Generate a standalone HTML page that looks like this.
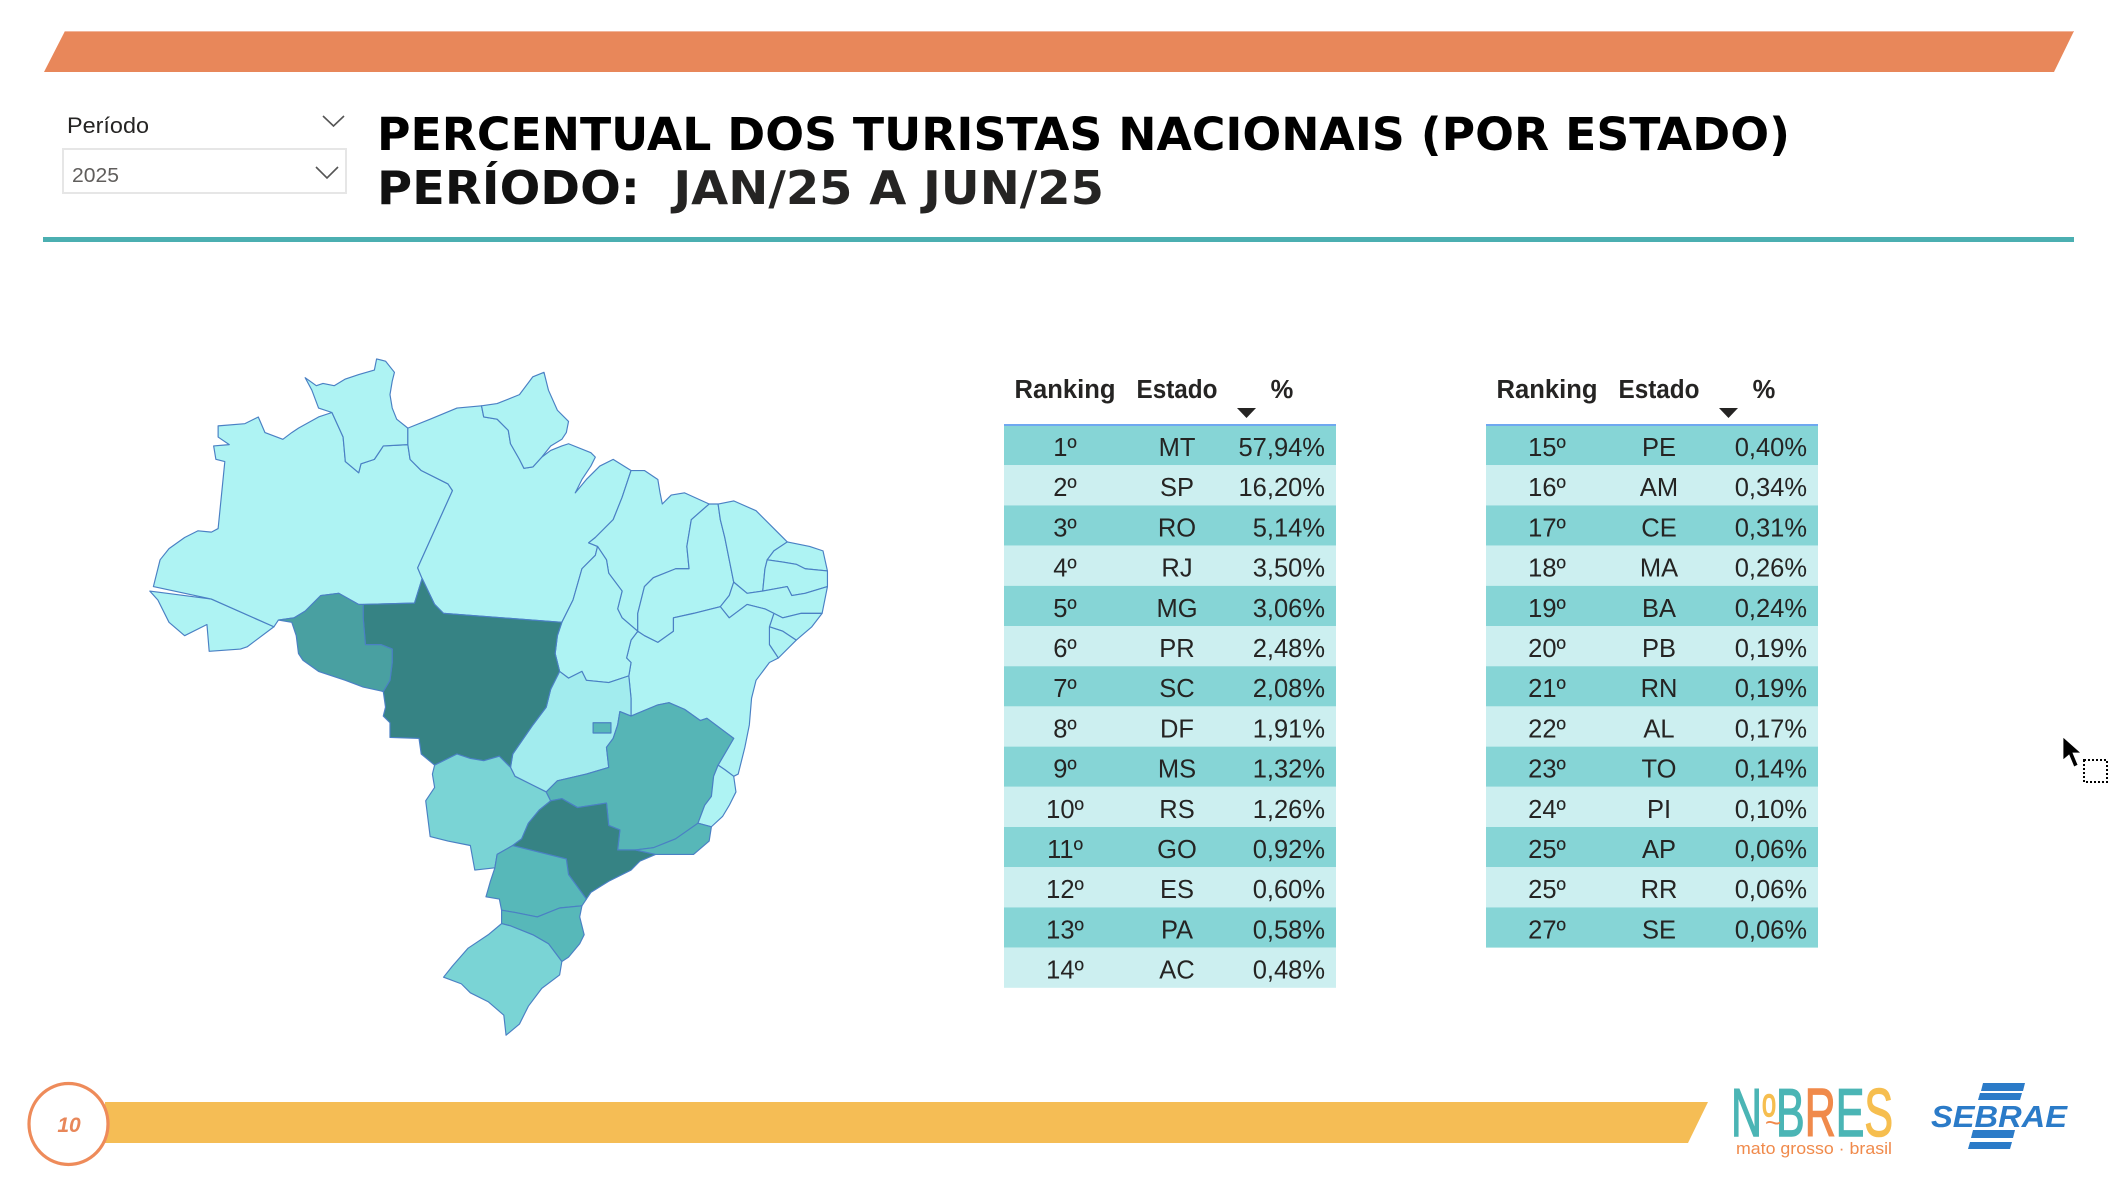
<!DOCTYPE html>
<html><head><meta charset="utf-8"><style>
html,body{margin:0;padding:0;background:#fff;width:2115px;height:1197px;overflow:hidden}
svg{display:block}
</style></head><body>
<svg width="2115" height="1197" viewBox="0 0 2115 1197" xmlns="http://www.w3.org/2000/svg">
<rect width="2115" height="1197" fill="#fff"/>
<!-- top orange bar -->
<polygon points="65,31 2074,31 2054,72 44,72" fill="#E8875A"/>
<line x1="65" y1="31.5" x2="2074" y2="31.5" stroke="#F1B49A" stroke-width="1"/>
<!-- teal line -->
<rect x="43" y="237" width="2031" height="5" fill="#4BAFB1"/>

<!-- slicer -->
<text x="67" y="133" font-family="Liberation Sans, sans-serif" font-size="22" fill="#252423" textLength="82" lengthAdjust="spacingAndGlyphs">Período</text>
<polyline points="323,116 333.5,126 344,116" fill="none" stroke="#555" stroke-width="1.6"/>
<rect x="63" y="149" width="283" height="44" fill="#fff" stroke="#E6E6E6" stroke-width="2"/>
<text x="72" y="182" font-family="Liberation Sans, sans-serif" font-size="20" fill="#605E5C" textLength="47" lengthAdjust="spacingAndGlyphs">2025</text>
<polyline points="316,167 327,178 338,167" fill="none" stroke="#555" stroke-width="1.6"/>

<!-- title -->
<text x="377" y="150" font-family="DejaVu Sans, Liberation Sans, sans-serif" font-weight="bold" font-size="45" fill="#000" textLength="1413" lengthAdjust="spacingAndGlyphs">PERCENTUAL DOS TURISTAS NACIONAIS (POR ESTADO)</text>
<text x="377" y="204" font-family="DejaVu Sans, Liberation Sans, sans-serif" font-weight="bold" font-size="46" fill="#111" textLength="727" lengthAdjust="spacingAndGlyphs">PERÍODO:&#160; <tspan fill="#252423">JAN/25 A JUN/25</tspan></text>

<!-- map -->
<g transform="translate(140,350) scale(0.4464)" stroke="#4A80C4" stroke-width="2.6" stroke-linejoin="round">
<polygon fill="#AEF3F3" points="22,540 160,558 300,620 240,665 225,670 155,675 150,615 100,640 65,610 40,560"/>
<polygon fill="#AEF3F3" points="30,530 45,470 65,445 100,420 130,405 160,408 175,400 185,300 190,250 170,245 165,215 200,212 175,195 175,170 235,165 265,150 280,185 320,200 340,185 355,175 400,150 430,140 455,195 460,250 490,275 495,255 525,245 545,215 600,212 605,245 630,270 690,300 700,315 622,488 632,512 615,567 500,570 490,570 445,545 405,550 370,585 345,600 310,605 300,620 160,558"/>
<polygon fill="#AEF3F3" points="370,62 395,80 410,75 435,80 460,65 490,55 525,45 530,20 550,25 570,50 565,70 560,100 565,130 575,155 600,175 600,212 545,215 525,245 495,255 490,275 460,250 455,195 430,140 400,130 385,90"/>
<polygon fill="#AEF3F3" points="600,175 650,155 710,130 765,125 770,150 800,155 825,180 830,210 850,245 860,265 880,262 900,240 920,225 945,215 960,210 1010,230 1020,240 1010,260 990,290 975,320 1000,290 1030,260 1060,245 1100,270 1080,330 1060,380 1020,420 1005,432 1025,440 1020,460 990,490 970,560 945,610 680,590 660,570 632,512 622,488 700,315 690,300 630,270 605,245 600,212"/>
<polygon fill="#AEF3F3" points="765,125 800,120 850,100 880,60 905,50 915,90 935,135 960,160 955,185 945,200 920,215 900,240 880,262 860,265 850,245 830,210 825,180 800,155 770,150"/>
<polygon fill="#AEF3F3" points="1100,270 1130,270 1160,290 1165,320 1170,345 1190,325 1220,320 1275,345 1235,380 1225,440 1230,490 1200,490 1150,510 1130,530 1115,590 1115,630 1080,600 1070,580 1080,540 1050,500 1045,470 1025,440 1005,432 1020,420 1060,380 1080,330"/>
<polygon fill="#AEF3F3" points="1275,345 1295,345 1300,380 1310,420 1320,470 1330,520 1320,550 1300,575 1240,590 1195,600 1195,630 1160,655 1130,640 1115,630 1115,590 1130,530 1150,510 1200,490 1230,490 1225,440 1235,380"/>
<polygon fill="#AEF3F3" points="1295,345 1330,338 1380,360 1420,400 1450,430 1420,450 1405,470 1400,490 1395,540 1360,545 1330,520 1320,470 1310,420 1300,380"/>
<polygon fill="#AEF3F3" points="1450,430 1500,440 1530,450 1540,495 1490,490 1470,480 1440,475 1405,470 1420,450"/>
<polygon fill="#AEF3F3" points="1405,470 1440,475 1470,480 1490,490 1540,495 1540,530 1490,545 1460,550 1450,530 1395,540 1400,490"/>
<polygon fill="#AEF3F3" points="1330,520 1360,545 1395,540 1450,530 1460,550 1490,545 1540,530 1528,590 1480,590 1440,600 1420,590 1400,580 1360,570 1320,600 1300,575 1320,550"/>
<polygon fill="#AEF3F3" points="1420,590 1440,600 1480,590 1528,590 1505,620 1470,650 1440,630 1410,620"/>
<polygon fill="#AEF3F3" points="1410,620 1440,630 1470,650 1430,690 1410,660"/>
<polygon fill="#AEF3F3" points="1300,575 1320,600 1360,570 1400,580 1420,590 1410,620 1410,660 1430,690 1410,700 1380,740 1370,780 1365,840 1355,890 1340,950 1330,955 1310,940 1295,930 1330,870 1310,855 1270,825 1255,830 1220,805 1185,790 1160,795 1100,820 1100,780 1095,730 1100,700 1090,690 1100,650 1115,630 1130,640 1160,655 1195,630 1195,600 1240,590"/>
<polygon fill="#AEF3F3" points="1025,440 1045,470 1050,500 1080,540 1070,580 1080,600 1115,630 1100,650 1090,690 1100,700 1095,730 1050,745 1000,740 990,720 960,735 940,720 930,680 935,640 945,610 970,560 990,490 1020,460"/>
<polygon fill="#A2ECEE" points="940,720 960,735 990,720 1000,740 1050,745 1095,730 1100,780 1100,820 1075,810 1070,840 1060,870 1045,890 1050,935 1000,950 935,965 910,990 880,975 840,955 830,935 835,905 880,840 910,800 920,760 935,730"/>
<rect x="1015" y="835" width="40" height="23" fill="#57B7B8"/>
<polygon fill="#368384" points="500,570 615,567 632,512 660,570 680,590 945,610 935,640 930,680 940,720 935,730 920,760 910,800 880,840 835,905 830,935 805,910 770,920 740,915 710,905 660,930 630,905 625,870 560,868 560,835 545,820 550,800 545,765 560,740 565,700 565,670 540,660 505,660 500,600"/>
<polygon fill="#49A0A1" points="345,600 370,585 405,550 445,545 490,570 500,570 500,600 505,660 540,660 565,670 565,700 560,740 545,765 500,755 460,740 400,720 365,695 355,680 350,640 340,610 310,605"/>
<polygon fill="#7AD4D5" points="660,930 710,905 740,915 770,920 805,910 830,935 840,955 880,975 910,990 920,1010 895,1030 870,1060 855,1095 835,1110 800,1130 795,1160 750,1165 740,1110 690,1100 650,1090 640,1010 660,980 655,950"/>
<polygon fill="#56B5B6" points="910,990 935,965 1000,950 1050,935 1045,890 1060,870 1070,840 1075,810 1100,820 1160,795 1185,790 1220,805 1255,830 1270,825 1310,855 1330,870 1295,930 1285,955 1280,1000 1265,1020 1250,1060 1200,1095 1150,1115 1110,1120 1070,1120 1075,1075 1050,1065 1045,1015 980,1025 945,1005 920,1010"/>
<polygon fill="#368384" points="920,1010 945,1005 980,1025 1045,1015 1050,1065 1075,1075 1070,1120 1110,1120 1155,1130 1120,1145 1100,1165 1050,1190 1010,1215 1000,1230 960,1175 955,1140 835,1110 855,1095 870,1060 895,1030"/>
<polygon fill="#AEF3F3" points="1295,930 1310,940 1330,955 1335,990 1320,1020 1305,1045 1280,1068 1250,1060 1265,1020 1280,1000 1285,955"/>
<polygon fill="#57B7B8" points="1150,1115 1200,1095 1250,1060 1280,1068 1275,1100 1240,1130 1200,1130 1155,1130 1110,1120"/>
<polygon fill="#57B8B9" points="795,1160 800,1130 835,1110 955,1140 960,1175 1000,1230 990,1245 940,1250 890,1270 840,1260 810,1255 805,1230 775,1225 785,1190"/>
<polygon fill="#57B8B9" points="810,1255 840,1260 890,1270 940,1250 990,1245 985,1270 995,1310 985,1330 960,1360 945,1370 915,1330 880,1310 830,1290 810,1285"/>
<polygon fill="#7AD4D5" points="810,1285 830,1290 880,1310 915,1330 945,1370 940,1400 900,1430 870,1470 850,1510 820,1535 815,1490 780,1460 740,1440 720,1420 680,1405 700,1380 735,1340 780,1310"/>
</g>

<!-- tables -->
<g font-family="Liberation Sans, sans-serif">
<text x="1065" y="398" font-size="25.5" font-weight="bold" fill="#252423" text-anchor="middle" textLength="101" lengthAdjust="spacingAndGlyphs">Ranking</text>
<text x="1177" y="398" font-size="25.5" font-weight="bold" fill="#252423" text-anchor="middle" textLength="81" lengthAdjust="spacingAndGlyphs">Estado</text>
<text x="1282" y="398" font-size="25.5" font-weight="bold" fill="#252423" text-anchor="middle">%</text>
<polygon points="1237,408 1256,408 1246.5,418" fill="#252423"/>
<text x="1547" y="398" font-size="25.5" font-weight="bold" fill="#252423" text-anchor="middle" textLength="101" lengthAdjust="spacingAndGlyphs">Ranking</text>
<text x="1659" y="398" font-size="25.5" font-weight="bold" fill="#252423" text-anchor="middle" textLength="81" lengthAdjust="spacingAndGlyphs">Estado</text>
<text x="1764" y="398" font-size="25.5" font-weight="bold" fill="#252423" text-anchor="middle">%</text>
<polygon points="1719,408 1738,408 1728.5,418" fill="#252423"/>

<g>
<rect x="1004" y="425" width="332" height="40.2" fill="#86D5D6"/>
<rect x="1004" y="465.2" width="332" height="40.2" fill="#CCEFF0"/>
<rect x="1004" y="505.4" width="332" height="40.2" fill="#86D5D6"/>
<rect x="1004" y="545.6" width="332" height="40.2" fill="#CCEFF0"/>
<rect x="1004" y="585.8" width="332" height="40.2" fill="#86D5D6"/>
<rect x="1004" y="626" width="332" height="40.2" fill="#CCEFF0"/>
<rect x="1004" y="666.2" width="332" height="40.2" fill="#86D5D6"/>
<rect x="1004" y="706.4" width="332" height="40.2" fill="#CCEFF0"/>
<rect x="1004" y="746.6" width="332" height="40.2" fill="#86D5D6"/>
<rect x="1004" y="786.8" width="332" height="40.2" fill="#CCEFF0"/>
<rect x="1004" y="827" width="332" height="40.2" fill="#86D5D6"/>
<rect x="1004" y="867.2" width="332" height="40.2" fill="#CCEFF0"/>
<rect x="1004" y="907.4" width="332" height="40.2" fill="#86D5D6"/>
<rect x="1004" y="947.6" width="332" height="40.2" fill="#CCEFF0"/>
</g>
<g>
<rect x="1486" y="425" width="332" height="40.2" fill="#86D5D6"/>
<rect x="1486" y="465.2" width="332" height="40.2" fill="#CCEFF0"/>
<rect x="1486" y="505.4" width="332" height="40.2" fill="#86D5D6"/>
<rect x="1486" y="545.6" width="332" height="40.2" fill="#CCEFF0"/>
<rect x="1486" y="585.8" width="332" height="40.2" fill="#86D5D6"/>
<rect x="1486" y="626" width="332" height="40.2" fill="#CCEFF0"/>
<rect x="1486" y="666.2" width="332" height="40.2" fill="#86D5D6"/>
<rect x="1486" y="706.4" width="332" height="40.2" fill="#CCEFF0"/>
<rect x="1486" y="746.6" width="332" height="40.2" fill="#86D5D6"/>
<rect x="1486" y="786.8" width="332" height="40.2" fill="#CCEFF0"/>
<rect x="1486" y="827" width="332" height="40.2" fill="#86D5D6"/>
<rect x="1486" y="867.2" width="332" height="40.2" fill="#CCEFF0"/>
<rect x="1486" y="907.4" width="332" height="40.2" fill="#86D5D6"/>
</g>
<line x1="1004" y1="425" x2="1336" y2="425" stroke="#6FA8F0" stroke-width="2"/>
<line x1="1486" y1="425" x2="1818" y2="425" stroke="#6FA8F0" stroke-width="2"/>

<g font-size="25.5" fill="#252423">
<g text-anchor="middle">
<text x="1065" y="456">1º</text><text x="1177" y="456">MT</text>
<text x="1065" y="496.2">2º</text><text x="1177" y="496.2">SP</text>
<text x="1065" y="536.4">3º</text><text x="1177" y="536.4">RO</text>
<text x="1065" y="576.6">4º</text><text x="1177" y="576.6">RJ</text>
<text x="1065" y="616.8">5º</text><text x="1177" y="616.8">MG</text>
<text x="1065" y="657">6º</text><text x="1177" y="657">PR</text>
<text x="1065" y="697.2">7º</text><text x="1177" y="697.2">SC</text>
<text x="1065" y="737.4">8º</text><text x="1177" y="737.4">DF</text>
<text x="1065" y="777.6">9º</text><text x="1177" y="777.6">MS</text>
<text x="1065" y="817.8">10º</text><text x="1177" y="817.8">RS</text>
<text x="1065" y="858">11º</text><text x="1177" y="858">GO</text>
<text x="1065" y="898.2">12º</text><text x="1177" y="898.2">ES</text>
<text x="1065" y="938.4">13º</text><text x="1177" y="938.4">PA</text>
<text x="1065" y="978.6">14º</text><text x="1177" y="978.6">AC</text>

<text x="1547" y="456">15º</text><text x="1659" y="456">PE</text>
<text x="1547" y="496.2">16º</text><text x="1659" y="496.2">AM</text>
<text x="1547" y="536.4">17º</text><text x="1659" y="536.4">CE</text>
<text x="1547" y="576.6">18º</text><text x="1659" y="576.6">MA</text>
<text x="1547" y="616.8">19º</text><text x="1659" y="616.8">BA</text>
<text x="1547" y="657">20º</text><text x="1659" y="657">PB</text>
<text x="1547" y="697.2">21º</text><text x="1659" y="697.2">RN</text>
<text x="1547" y="737.4">22º</text><text x="1659" y="737.4">AL</text>
<text x="1547" y="777.6">23º</text><text x="1659" y="777.6">TO</text>
<text x="1547" y="817.8">24º</text><text x="1659" y="817.8">PI</text>
<text x="1547" y="858">25º</text><text x="1659" y="858">AP</text>
<text x="1547" y="898.2">25º</text><text x="1659" y="898.2">RR</text>
<text x="1547" y="938.4">27º</text><text x="1659" y="938.4">SE</text>
</g>
<g text-anchor="end">
<text x="1325" y="456">57,94%</text>
<text x="1325" y="496.2">16,20%</text>
<text x="1325" y="536.4">5,14%</text>
<text x="1325" y="576.6">3,50%</text>
<text x="1325" y="616.8">3,06%</text>
<text x="1325" y="657">2,48%</text>
<text x="1325" y="697.2">2,08%</text>
<text x="1325" y="737.4">1,91%</text>
<text x="1325" y="777.6">1,32%</text>
<text x="1325" y="817.8">1,26%</text>
<text x="1325" y="858">0,92%</text>
<text x="1325" y="898.2">0,60%</text>
<text x="1325" y="938.4">0,58%</text>
<text x="1325" y="978.6">0,48%</text>

<text x="1807" y="456">0,40%</text>
<text x="1807" y="496.2">0,34%</text>
<text x="1807" y="536.4">0,31%</text>
<text x="1807" y="576.6">0,26%</text>
<text x="1807" y="616.8">0,24%</text>
<text x="1807" y="657">0,19%</text>
<text x="1807" y="697.2">0,19%</text>
<text x="1807" y="737.4">0,17%</text>
<text x="1807" y="777.6">0,14%</text>
<text x="1807" y="817.8">0,10%</text>
<text x="1807" y="858">0,06%</text>
<text x="1807" y="898.2">0,06%</text>
<text x="1807" y="938.4">0,06%</text>
</g>
</g>
</g>

<!-- cursor -->
<polygon points="2063,737 2063,760 2069,755 2074,767 2078,765 2073,753 2081,753" fill="#000" stroke="#fff" stroke-width="0.8"/>
<rect x="2084" y="760" width="23" height="22" fill="none" stroke="#000" stroke-width="2" stroke-dasharray="2,2"/>

<!-- footer -->
<polygon points="105,1102 1708,1102 1688,1143 105,1143" fill="#F5BD55"/>
<ellipse cx="68.5" cy="1124" rx="39.5" ry="40.5" fill="#fff" stroke="#EE8B5A" stroke-width="3.2"/>
<text x="69" y="1132" font-family="Liberation Sans, sans-serif" font-size="21" font-weight="bold" font-style="italic" fill="#E8875A" text-anchor="middle">10</text>

<!-- NOBRES logo -->
<g font-family="Liberation Sans, DejaVu Sans, sans-serif">
<text x="1731" y="1136" font-size="68" stroke-width="1.5" textLength="162" lengthAdjust="spacingAndGlyphs"><tspan fill="#4BB5B5" stroke="#4BB5B5">N</tspan><tspan fill="#F6BE4F" stroke="#F6BE4F" font-size="40" dy="-20">o</tspan><tspan fill="#4BB5B5" stroke="#4BB5B5" dy="20">B</tspan><tspan fill="#F08A4B" stroke="#F08A4B">R</tspan><tspan fill="#4BB5B5" stroke="#4BB5B5">E</tspan><tspan fill="#F6BE4F" stroke="#F6BE4F">S</tspan></text>
<text x="1765" y="1132" font-size="28" fill="#F08A4B">~</text>
<text x="1736" y="1154" font-size="16.5" fill="#F08A4B" textLength="156" lengthAdjust="spacingAndGlyphs">mato grosso · brasil</text>
</g>

<!-- SEBRAE logo -->
<g fill="#2B7BC8">
<polygon points="1983,1083 2025,1083 2023,1091 1981,1091"/>
<polygon points="1980,1093 2022,1093 2020,1100 1978,1100"/>
<polygon points="1973,1130 2015,1130 2013,1138 1971,1138"/>
<polygon points="1970,1142 2012,1142 2010,1149 1968,1149"/>
<text x="1931" y="1127" font-family="Liberation Sans, sans-serif" font-size="31" font-weight="bold" font-style="italic" textLength="136" lengthAdjust="spacingAndGlyphs">SEBRAE</text>
</g>
</svg>
</body></html>
